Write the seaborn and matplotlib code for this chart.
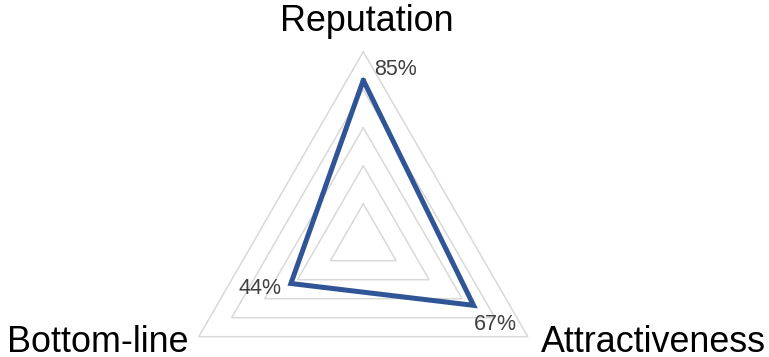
import numpy as np
import pandas as pd
import matplotlib
matplotlib.use("Agg")
import matplotlib.pyplot as plt
import seaborn as sns

# Radar chart data (clockwise from the top)
categories = ["Reputation", "Attractiveness", "Bottom-line"]
values = [0.85, 0.67, 0.44]
value_labels = ["85%", "67%", "44%"]
grid_levels = [0.2, 0.4, 0.6, 0.8, 1.0]

sns.set_theme(style="white")
plt.rcParams["font.family"] = ["Liberation Sans", "DejaVu Sans"]

W, H, DPI = 769, 357, 100
fig = plt.figure(figsize=(W / DPI, H / DPI), dpi=DPI)
fig.patch.set_facecolor("white")

# polar axes centred on the chart, radius 190 px
cx, cy, R = 363.3, 241.7, 190.0
ax = fig.add_axes([(cx - R) / W, (H - cy - R) / H, 2 * R / W, 2 * R / H],
                  projection="polar")
ax.set_theta_offset(np.pi / 2)
ax.set_theta_direction(-1)
ax.set_ylim(0, 1)
ax.set_facecolor("none")
ax.grid(False)
ax.set_xticks([])
ax.set_yticks([])
ax.spines["polar"].set_visible(False)

n = len(categories)
angles = np.linspace(0, 2 * np.pi, n, endpoint=False)
closed_angles = np.append(angles, 2 * np.pi)

# triangular gridlines
for lvl in grid_levels:
    ax.plot(closed_angles, [lvl] * (n + 1), color="#D9D9D9", lw=1.1,
            solid_joinstyle="miter", zorder=1, clip_on=False)

# data series
df = pd.DataFrame({"angle": closed_angles, "value": values + values[:1]})
sns.lineplot(data=df, x="angle", y="value", sort=False, estimator=None,
             color="#2F5597", lw=3.6, ax=ax, zorder=3)
for line in ax.lines[-1:]:
    line.set_solid_joinstyle("miter")
    line.set_clip_on(False)
ax.set_xlabel("")
ax.set_ylabel("")

# category labels at the outer ring
cat_style = [((4, 21), "center"), ((13, -15), "left"), ((-10, -15), "right")]
for ang, name, (off, ha) in zip(angles, categories, cat_style):
    ax.annotate(name, xy=(ang, 1.0), xytext=off, textcoords="offset pixels",
                ha=ha, va="baseline", fontsize=25.8, color="black",
                annotation_clip=False)

# value labels beside each point
val_style = [((11, 5), "left"), ((0, -25), "left"), ((-9, -10), "right")]
for ang, v, lab, (off, ha) in zip(angles, values, value_labels, val_style):
    ax.annotate(lab, xy=(ang, v), xytext=off, textcoords="offset pixels",
                ha=ha, va="baseline", fontsize=15.5, color="#404040",
                annotation_clip=False)

fig.savefig("out.png", dpi=DPI, facecolor="white")
